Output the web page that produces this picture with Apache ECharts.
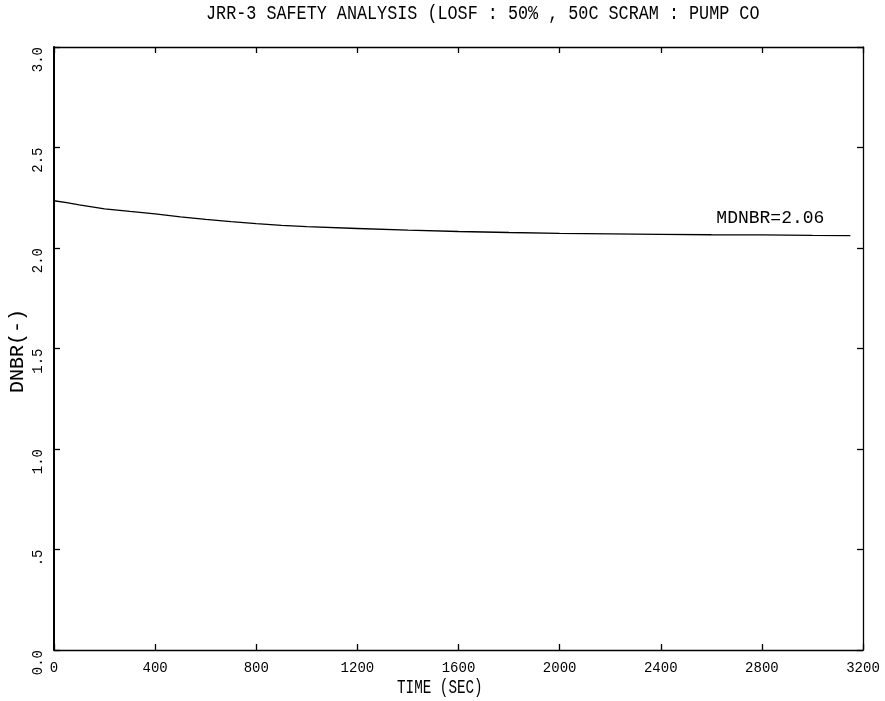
<!DOCTYPE html>
<html>
<head>
<meta charset="utf-8">
<script src="https://cdn.jsdelivr.net/npm/echarts@6/dist/echarts.min.js"></script>
<style>
  html, body { margin: 0; padding: 0; background: #fff; }
  #chart { width: 885px; height: 701px; }
</style>
</head>
<body>
<div id="chart"></div>
<script>
// Transient DNBR history: time (s) and DNBR (-)
const timeSec = [0, 50, 100, 200, 300, 400, 500, 600, 700, 800, 900, 1000, 1200, 1400, 1600, 1800, 2000, 2200, 2400, 2600, 2800, 3000, 3150];
const dnbr    = [2.235, 2.226, 2.215, 2.195, 2.182, 2.170, 2.155, 2.142, 2.131, 2.121, 2.113, 2.106, 2.097, 2.089, 2.082, 2.077, 2.073, 2.070, 2.068, 2.066, 2.065, 2.063, 2.062];

const xTicks = [0, 400, 800, 1200, 1600, 2000, 2400, 2800, 3200];
const yTickLabels = ['0.0', '.5', '1.0', '1.5', '2.0', '2.5', '3.0'];

const titleText = 'JRR-3 SAFETY ANALYSIS (LOSF : 50% , 50C SCRAM : PUMP CO';
const xName = 'TIME (SEC)';
const yName = 'DNBR(-)';

// minimum DNBR over the transient, truncated to two decimals
const mdnbr = Math.floor(Math.min(...dnbr) * 100) / 100;

const FONT = 'Liberation Mono';

const points = timeSec.map((t, i) => [t, dnbr[i]]);

const chart = echarts.init(document.getElementById('chart'), null, { renderer: 'canvas' });

const axisLine = { show: true, onZero: false, lineStyle: { color: '#000', width: 1.3 } };
const tick = { show: true, inside: true, length: 6, lineStyle: { color: '#000', width: 1.3 } };

chart.setOption({
  backgroundColor: '#fff',
  animation: false,
  grid: { left: 54, right: 22, top: 47, bottom: 51, containLabel: false, outerBoundsMode: 'none' },
  xAxis: [{
    type: 'value',
    position: 'bottom',
    min: 0, max: 3200, interval: 400,
    axisLine: axisLine,
    axisTick: tick,
    splitLine: { show: false },
    axisLabel: {
      show: true, margin: 11, color: '#000', fontFamily: FONT, fontSize: 14,
      showMinLabel: true, showMaxLabel: true,
      formatter: v => xTicks.includes(v) ? String(v) : ''
    }
  }, {
    type: 'value',
    position: 'top',
    min: 0, max: 3200, interval: 400,
    axisLine: axisLine,
    axisTick: tick,
    splitLine: { show: false },
    axisLabel: { show: false }
  }],
  yAxis: [{
    type: 'value',
    position: 'left',
    min: 0, max: 3, interval: 0.5,
    axisLine: { show: true, onZero: false, lineStyle: { color: '#000', width: 2 } },
    axisTick: tick,
    splitLine: { show: false },
    axisLabel: {
      show: true, rotate: 90, margin: 9, color: '#000', fontFamily: FONT, fontSize: 14,
      align: 'right', verticalAlign: 'bottom',
      showMinLabel: true, showMaxLabel: true,
      formatter: v => yTickLabels[Math.round(v / 0.5)]
    }
  }, {
    type: 'value',
    position: 'right',
    min: 0, max: 3, interval: 0.5,
    axisLine: axisLine,
    axisTick: tick,
    splitLine: { show: false },
    axisLabel: { show: false }
  }],
  series: [{
    type: 'line',
    xAxisIndex: 0,
    yAxisIndex: 0,
    data: points,
    showSymbol: false,
    symbol: 'none',
    smooth: false,
    lineStyle: { color: '#000', width: 1.3 },
    endLabel: {
      show: true,
      formatter: 'MDNBR=' + mdnbr.toFixed(2),
      color: '#000',
      fontFamily: FONT,
      fontSize: 18,
      align: 'right',
      verticalAlign: 'middle',
      distance: 0,
      offset: [-26, -17]
    }
  }],
  graphic: [{
    type: 'text',
    left: 206,
    top: 4,
    scaleX: 0.86,
    style: { text: titleText, fontFamily: FONT, fontSize: 19.5, fill: '#000' }
  }, {
    type: 'text',
    left: 397,
    top: 677,
    scaleX: 0.68,
    style: { text: xName, fontFamily: FONT, fontSize: 21, fill: '#000' }
  }, {
    type: 'text',
    x: 18,
    y: 351,
    rotation: Math.PI / 2,
    style: {
      text: yName, fontFamily: FONT, fontSize: 20, fill: '#000',
      align: 'center', verticalAlign: 'middle'
    }
  }]
});
</script>
</body>
</html>
